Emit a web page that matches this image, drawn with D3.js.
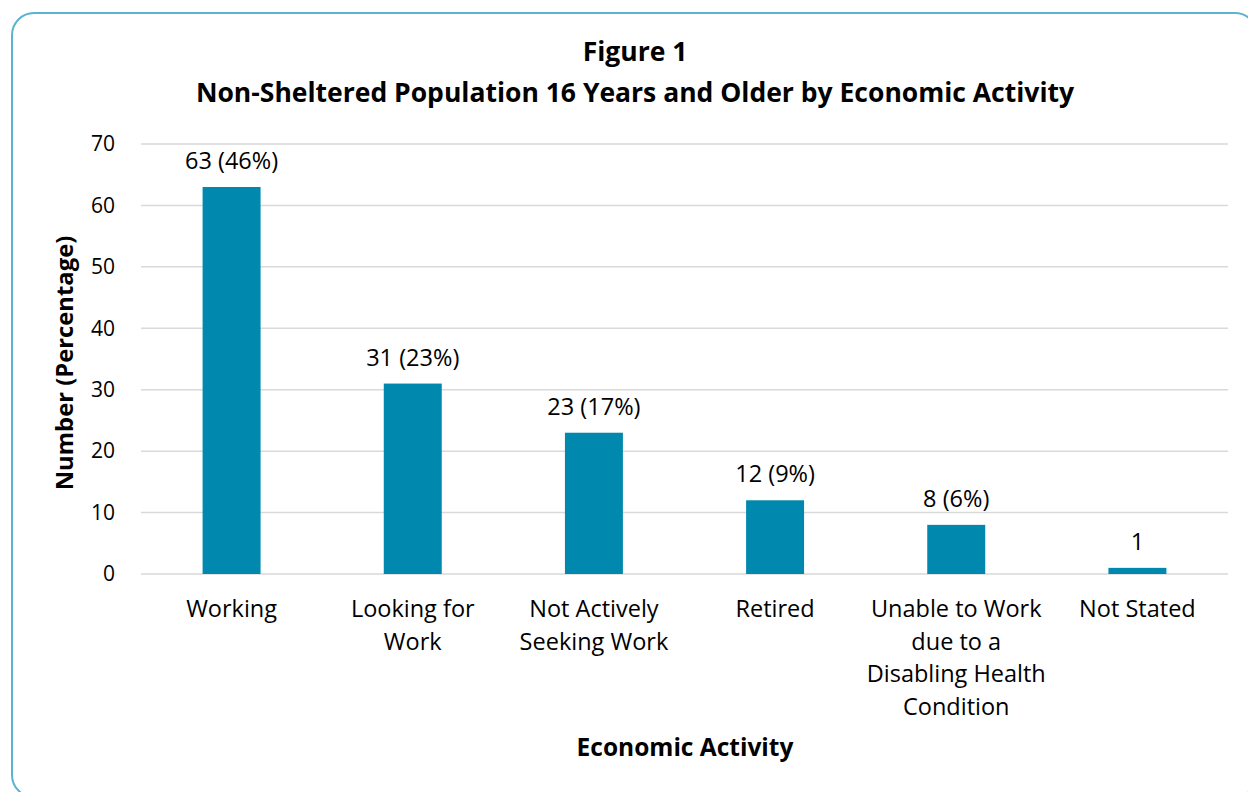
<!DOCTYPE html>
<html>
<head>
<meta charset="utf-8">
<script src="https://cdn.jsdelivr.net/npm/d3@7"></script>
<style>
  body { margin: 0; background: #fff; }
  text { font-family: "Open Sans", Lato, sans-serif; fill: #000; }
</style>
</head>
<body>
<div id="chart"></div>
<script>
// chart data
var categories = [
  ["Working"],
  ["Looking for", "Work"],
  ["Not Actively", "Seeking Work"],
  ["Retired"],
  ["Unable to Work", "due to a", "Disabling Health", "Condition"],
  ["Not Stated"]
];
var counts = [63, 31, 23, 12, 8, 1];
var valueLabels = ["63 (46%)", "31 (23%)", "23 (17%)", "12 (9%)", "8 (6%)", "1"];
var yTicks = [0, 10, 20, 30, 40, 50, 60, 70];

var svgWidth = 1248, svgHeight = 792;
var margin = {top: 144, right: 20, bottom: 218, left: 141};
var width = 1228 - margin.left;
var height = 574 - margin.top;

var svg = d3.select("#chart").append("svg")
  .attr("width", svgWidth).attr("height", svgHeight);

// rounded frame (runs past the right and bottom edges)
svg.append("rect")
  .attr("x", 12).attr("y", 13)
  .attr("width", 1245).attr("height", 784)
  .attr("rx", 22).attr("ry", 22)
  .attr("fill", "none")
  .attr("stroke", "#5cb3cf")
  .attr("stroke-width", 2);

var chart = svg.append("g").attr("transform", `translate(${margin.left}, ${margin.top})`);

var xScale = d3.scaleBand().domain(d3.range(categories.length)).range([0, width]).paddingInner(0.68).paddingOuter(0.34);
var yScale = d3.scaleLinear().domain([0, 70]).range([height, 0]);

// gridlines
chart.selectAll(".grid").data(yTicks).enter().append("line")
  .attr("x1", 0).attr("x2", width)
  .attr("y1", d => yScale(d)).attr("y2", d => yScale(d))
  .attr("stroke", "#d9d9d9").attr("stroke-width", 1.5);

// y tick labels
var yAxis = d3.axisLeft(yScale).tickValues(yTicks).tickSize(0).tickPadding(26);
var yg = chart.append("g").call(yAxis);
yg.select(".domain").remove();
yg.selectAll("text").attr("font-size", "21px").style("font-family", "'Open Sans', sans-serif");

// bars
chart.selectAll("rect.bar").data(counts).enter().append("rect")
  .attr("class", "bar")
  .attr("x", (d, i) => xScale(i))
  .attr("y", d => yScale(d))
  .attr("width", xScale.bandwidth())
  .attr("height", d => height - yScale(d))
  .attr("fill", "#0088ae");

// value labels
chart.selectAll("text.val").data(counts).enter().append("text")
  .attr("class", "val")
  .attr("x", (d, i) => xScale(i) + xScale.bandwidth() / 2)
  .attr("y", d => yScale(d) - 18)
  .attr("text-anchor", "middle")
  .attr("font-size", "23.5px")
  .text((d, i) => valueLabels[i]);

// category labels
var cat = chart.selectAll("text.cat").data(categories).enter().append("text")
  .attr("class", "cat")
  .attr("text-anchor", "middle")
  .attr("font-size", "23.5px")
  .attr("transform", (d, i) => `translate(${xScale(i) + xScale.bandwidth() / 2}, ${height + 43})`);
cat.selectAll("tspan").data(d => d).enter().append("tspan")
  .attr("x", 0)
  .attr("y", (d, j) => j * 32.5)
  .text(d => d);

// titles
svg.append("text").attr("x", 635).attr("y", 61).attr("text-anchor", "middle")
  .attr("font-size", "26.5px").attr("font-weight", "bold").text("Figure 1");
svg.append("text").attr("x", 635).attr("y", 102).attr("text-anchor", "middle")
  .attr("font-size", "26.5px").attr("font-weight", "bold")
  .text("Non-Sheltered Population 16 Years and Older by Economic Activity");

svg.append("text").attr("x", 685).attr("y", 756).attr("text-anchor", "middle")
  .attr("font-size", "24.5px").attr("font-weight", "bold").text("Economic Activity");

svg.append("text").attr("transform", "translate(73, 363) rotate(-90)").attr("text-anchor", "middle")
  .attr("font-size", "23.8px").attr("font-weight", "bold").text("Number (Percentage)");
</script>
</body>
</html>
